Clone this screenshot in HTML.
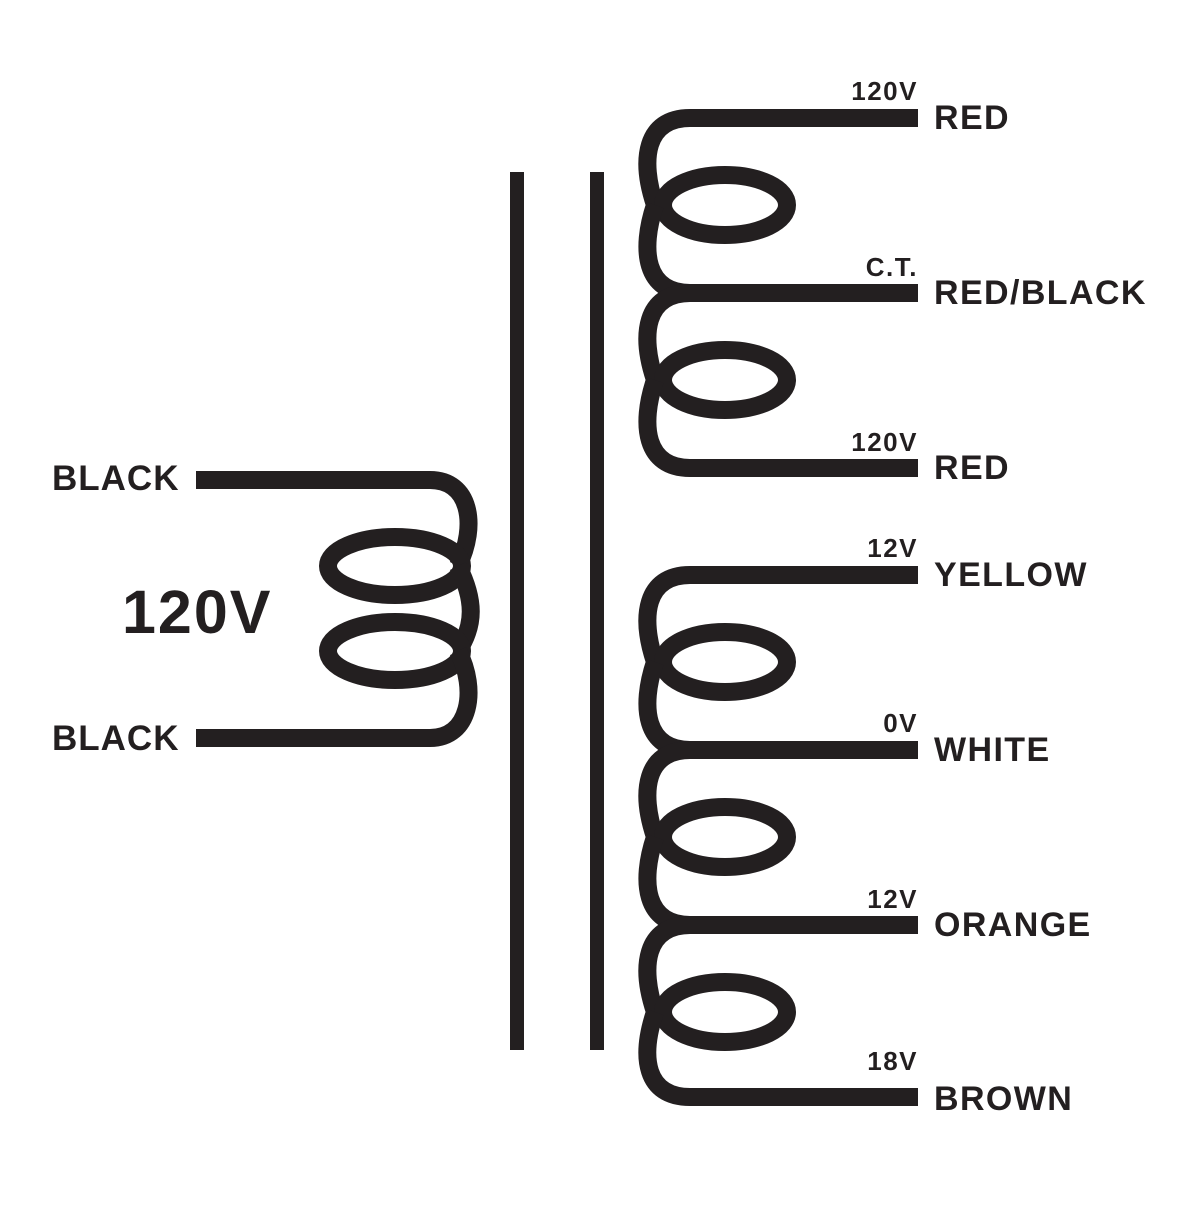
<!DOCTYPE html>
<html><head><style>body{margin:0;background:#fff}</style></head><body>
<svg width="1200" height="1200" viewBox="0 0 1200 1200" xmlns="http://www.w3.org/2000/svg">
<g fill="none" stroke="#231f20" stroke-width="18">
<rect x="510" y="172" width="14" height="878" fill="#231f20" stroke="none"/>
<rect x="590" y="172" width="14" height="878" fill="#231f20" stroke="none"/>
<!-- primary -->
<path d="M196 480 H430 C470 480 478 525 458 566"/>
<ellipse cx="395" cy="566" rx="67" ry="29"/>
<path d="M458 566 C475 600 475 625 458 651"/>
<ellipse cx="395" cy="651" rx="67" ry="29"/>
<path d="M458 651 C478 690 470 738 430 738 H196"/>
<!-- secondary top -->
<path d="M918 118 H690 C645 118 640 160 655 205"/>
<ellipse cx="725" cy="205" rx="62" ry="30"/>
<path d="M655 205 C640 250 645 293 690 293 H918"/>
<path d="M690 293 C645 293 640 335 655 380"/>
<ellipse cx="725" cy="380" rx="62" ry="30"/>
<path d="M655 380 C640 425 645 468 690 468 H918"/>
<!-- secondary bottom -->
<path d="M918 575 H690 C645 575 640 617 655 662"/>
<ellipse cx="725" cy="662" rx="62" ry="30"/>
<path d="M655 662 C640 707 645 750 690 750 H918"/>
<path d="M690 750 C645 750 640 792 655 837"/>
<ellipse cx="725" cy="837" rx="62" ry="30"/>
<path d="M655 837 C640 882 645 925 690 925 H918"/>
<path d="M690 925 C645 925 640 967 655 1012"/>
<ellipse cx="725" cy="1012" rx="62" ry="30"/>
<path d="M655 1012 C640 1057 645 1097 690 1097 H918"/>
</g>
<g font-family="Liberation Sans, sans-serif" font-weight="bold" fill="#231f20">
<text x="52" y="490" font-size="35" letter-spacing="1">BLACK</text>
<text x="52" y="750" font-size="35" letter-spacing="1">BLACK</text>
<text x="122" y="633" font-size="61" letter-spacing="2">120V</text>
<g font-size="34" letter-spacing="1.4">
<text x="934" y="129">RED</text>
<text x="934" y="304">RED/BLACK</text>
<text x="934" y="479">RED</text>
<text x="934" y="586">YELLOW</text>
<text x="934" y="761">WHITE</text>
<text x="934" y="936">ORANGE</text>
<text x="934" y="1110">BROWN</text>
</g>
<g font-size="26" text-anchor="end" letter-spacing="1.5">
<text x="918" y="100">120V</text>
<text x="918" y="276">C.T.</text>
<text x="918" y="451">120V</text>
<text x="918" y="557">12V</text>
<text x="918" y="732">0V</text>
<text x="918" y="908">12V</text>
<text x="918" y="1070">18V</text>
</g>
</g>
</svg>
</body></html>
